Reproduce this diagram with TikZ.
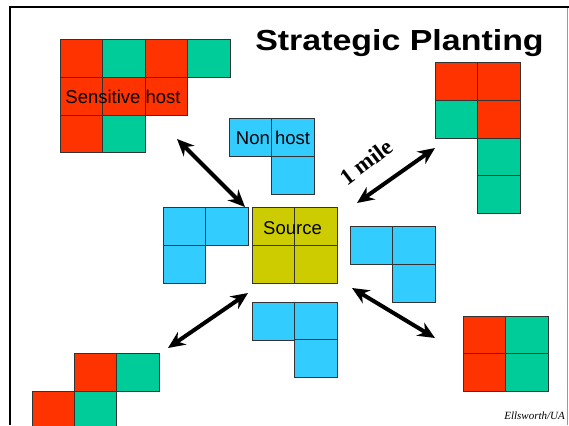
\documentclass[tikz,border=0pt]{standalone}
\usepackage{fontspec}
\setmainfont{Liberation Sans}
\newfontfamily\seriffont{Liberation Serif}
\usetikzlibrary{arrows.meta}

\definecolor{hostred}{HTML}{FF3300}
\definecolor{resgreen}{HTML}{00CC99}
\definecolor{nonblue}{HTML}{33CCFF}
\definecolor{srcolive}{HTML}{CCCC00}

\begin{document}
\begin{tikzpicture}[
    % 定義樣式
    x=1pt, y=-1pt,
    cell/.style={rectangle, draw=black!80, line width=0.8pt, inner sep=0pt,
                 minimum width=42.4pt, minimum height=37.8pt, anchor=north west},
    link/.style={{Stealth[length=17pt,width=15pt]}-{Stealth[length=17pt,width=15pt]},
                 line width=4pt},
    label/.style={font=\fontsize{18.5}{20}\selectfont, anchor=base, inner sep=0pt}
]
    \useasboundingbox (0,0) rectangle (569,425);

    % --- 0. 外框 ---
    \coordinate (frame-nw) at (10,7);
    \coordinate (frame-ne) at (569,7);
    \coordinate (frame-sw) at (10,425);
    \draw[line width=2pt] (frame-sw) -- (frame-nw) -- (frame-ne);
    \draw[black!40, line width=0.6pt] (567,8) -- (567,425);

    % --- 1. 標題 ---
    \node[font=\fontsize{29}{32}\selectfont\bfseries, anchor=base, inner sep=0pt,
          xscale=1.17, transform shape] (title) at (399.5,51) {Strategic Planting};

    % --- 2. Sensitive host 方格 ---
    \foreach \name/\x/\y/\col in {1/60/39/hostred, 2/102.4/39/resgreen, 3/144.8/39/hostred, 4/187.2/39/resgreen,
                                  5/60/76.8/hostred, 6/102.4/76.8/hostred, 7/144.8/76.8/hostred,
                                  8/60/114.6/hostred, 9/102.4/114.6/resgreen}
        \node[cell, fill=\col] (SH-\name) at (\x,\y) {};
    \node[label] (sh-text) at (123,103) {Sensitive host};

    % --- 3. 右上方格 ---
    \foreach \name/\x/\y/\col in {1/435/62/hostred, 2/477.4/62/hostred,
                                  3/435/99.8/resgreen, 4/477.4/99.8/hostred,
                                  5/477.4/137.6/resgreen, 6/477.4/175.4/resgreen}
        \node[cell, fill=\col] (TR-\name) at (\x,\y) {};

    % --- 4. Non host 與中央 ---
    \foreach \name/\x/\y in {1/229/118, 2/271.4/118, 3/271.4/155.8}
        \node[cell, fill=nonblue] (NH-\name) at (\x,\y) {};
    \node[label] (nh-text) at (273,144) {Non host};

    \foreach \name/\x/\y in {1/163/207, 2/205.4/207, 3/163/244.8}
        \node[cell, fill=nonblue] (LB-\name) at (\x,\y) {};

    \foreach \name/\x/\y in {1/252/207, 2/294.4/207, 3/252/244.8, 4/294.4/244.8}
        \node[cell, fill=srcolive] (S-\name) at (\x,\y) {};
    \node[label] (src-text) at (292.5,234) {Source};

    \foreach \name/\x/\y in {1/350/226, 2/392.4/226, 3/392.4/263.8}
        \node[cell, fill=nonblue] (RB-\name) at (\x,\y) {};

    \foreach \name/\x/\y in {1/252/302, 2/294.4/302, 3/294.4/339.4}
        \node[cell, fill=nonblue] (BB-\name) at (\x,\y) {};

    % --- 5. 下方方格 ---
    \foreach \name/\x/\y/\col in {1/463/316/hostred, 2/505.4/316/resgreen,
                                  3/463/353.4/hostred, 4/505.4/353.4/resgreen}
        \node[cell, fill=\col] (BR-\name) at (\x,\y) {};

    \foreach \name/\x/\y/\col in {1/74/353/hostred, 2/116.4/353/resgreen,
                                  3/31.6/390.8/hostred, 4/74/390.8/resgreen}
        \node[cell, fill=\col] (BL-\name) at (\x,\y) {};

    % --- 6. 箭頭 ---
    \coordinate (a1-far) at (177,139);  \coordinate (a1-near) at (245,207);
    \coordinate (a2-near) at (357,203); \coordinate (a2-far) at (435,148);
    \coordinate (a3-far) at (168,348);  \coordinate (a3-near) at (248,293);
    \coordinate (a4-near) at (352,288); \coordinate (a4-far) at (435,338);

    \draw[link] (a1-far) -- (a1-near);
    \draw[link] (a2-near) -- (a2-far);
    \draw[link] (a3-far) -- (a3-near);
    \draw[link] (a4-near) -- (a4-far);

    % --- 7. 標籤 ---
    \node[font=\fontsize{23}{26}\seriffont\bfseries, rotate=37, inner sep=0pt] (mile) at (366,162) {1 mile};
    \node[font=\fontsize{11}{13}\seriffont\itshape, anchor=base east, inner sep=0pt] (credit) at (565,419) {Ellsworth/UA};

\end{tikzpicture}
\end{document}
